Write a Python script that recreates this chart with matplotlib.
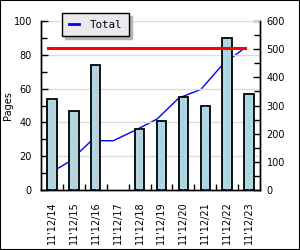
import numpy as np
import matplotlib
matplotlib.use('Agg')
import matplotlib.pyplot as plt
from matplotlib.patches import Rectangle
from matplotlib.ticker import MultipleLocator, FixedLocator

days = ["11'12/14", "11'12/15", "11'12/16", "11'12/17", "11'12/18",
        "11'12/19", "11'12/20", "11'12/21", "11'12/22", "11'12/23"]
pages = [54, 47, 74, 0, 36, 41, 55, 50, 90, 57]
total = [55, 101, 175, 175, 212, 252, 327, 357, 446, 504]
target = 504

x = np.arange(len(days))
xl = x - 0.2   # line points sit at the left edge of each bar
pg = np.array(pages)
has = pg > 0

fig = plt.figure(figsize=(3, 2.5), dpi=100)
ax = fig.add_axes([41/300, 60/250, 219/300, 169/250])   # total scale (right)
ax2 = ax.twinx()                                         # pages scale (left)

# total line, behind the bars
line, = ax.plot(xl, total, color='#0000ff', lw=1, label='Total')
ax.set_ylim(0, 600)
ax.yaxis.set_major_locator(MultipleLocator(100))
ax.yaxis.set_minor_locator(MultipleLocator(50))
ax.yaxis.tick_right()
ax.tick_params(axis='y', which='both', direction='in', labelsize=7, pad=4.8, width=1)
ax.tick_params(axis='y', which='major', length=5)
ax.tick_params(axis='y', which='minor', length=4)

# bars on top
ax2.set_axisbelow(True)
ax2.grid(axis='y', color='#dcdcdc', lw=1)
ax2.bar(x[has], pg[has], width=0.43, color='#add8e6', edgecolor='black', linewidth=1.3, zorder=2)
ax2.vlines(x[has], 0, pg[has], colors='#f0a898', linestyles=(0, (1, 2)), linewidth=0.8, zorder=3)
ax2.plot([xl[0], xl[-1]], [target, target], color='#ff0000', lw=2.2, zorder=4,
         transform=ax.transData)
ax2.set_ylim(0, 100)
ax2.yaxis.set_major_locator(MultipleLocator(20))
ax2.yaxis.set_minor_locator(MultipleLocator(10))
ax2.yaxis.tick_left()
ax2.tick_params(axis='y', which='both', direction='in', labelsize=7, pad=6.5, width=1)
ax2.tick_params(axis='y', which='major', length=5)
ax2.tick_params(axis='y', which='minor', length=4)
ax2.set_ylabel('Pages', fontsize=7)
ax2.yaxis.set_label_position('left')
ax2.yaxis.set_label_coords(-0.128, 0.5)

ax.set_xlim(-0.5, len(days) - 0.5)
ax.set_xticks(x)
ax.set_xticklabels(days, rotation=90, fontsize=7)
ax.xaxis.set_minor_locator(FixedLocator(x[:-1] + 0.5))
ax.tick_params(axis='x', which='major', length=0, pad=8)
ax.tick_params(axis='x', which='minor', direction='in', length=4, width=1)

for a in (ax, ax2):
    a.spines['top'].set_visible(False)
    for s in ('left', 'right', 'bottom'):
        a.spines[s].set_linewidth(1)

leg = ax2.legend(handles=[line], loc='upper left', bbox_to_anchor=(62/300, 1 - 13/250),
                 bbox_transform=fig.transFigure, borderaxespad=0, fancybox=False,
                 shadow={'color': '#b4b4b4', 'alpha': 1}, framealpha=1,
                 edgecolor='black', facecolor='#ebe8ee', handlelength=1.0,
                 handletextpad=1.0, borderpad=0.6,
                 prop={'family': 'DejaVu Sans Mono', 'size': 7.8})
leg.get_frame().set_linewidth(1)
leg.get_lines()[0].set_linewidth(2)

fig.patches.append(Rectangle((0, 0), 1, 1, transform=fig.transFigure, fill=False,
                             ec='black', lw=1.5))

fig.savefig('out.png', dpi=100)
